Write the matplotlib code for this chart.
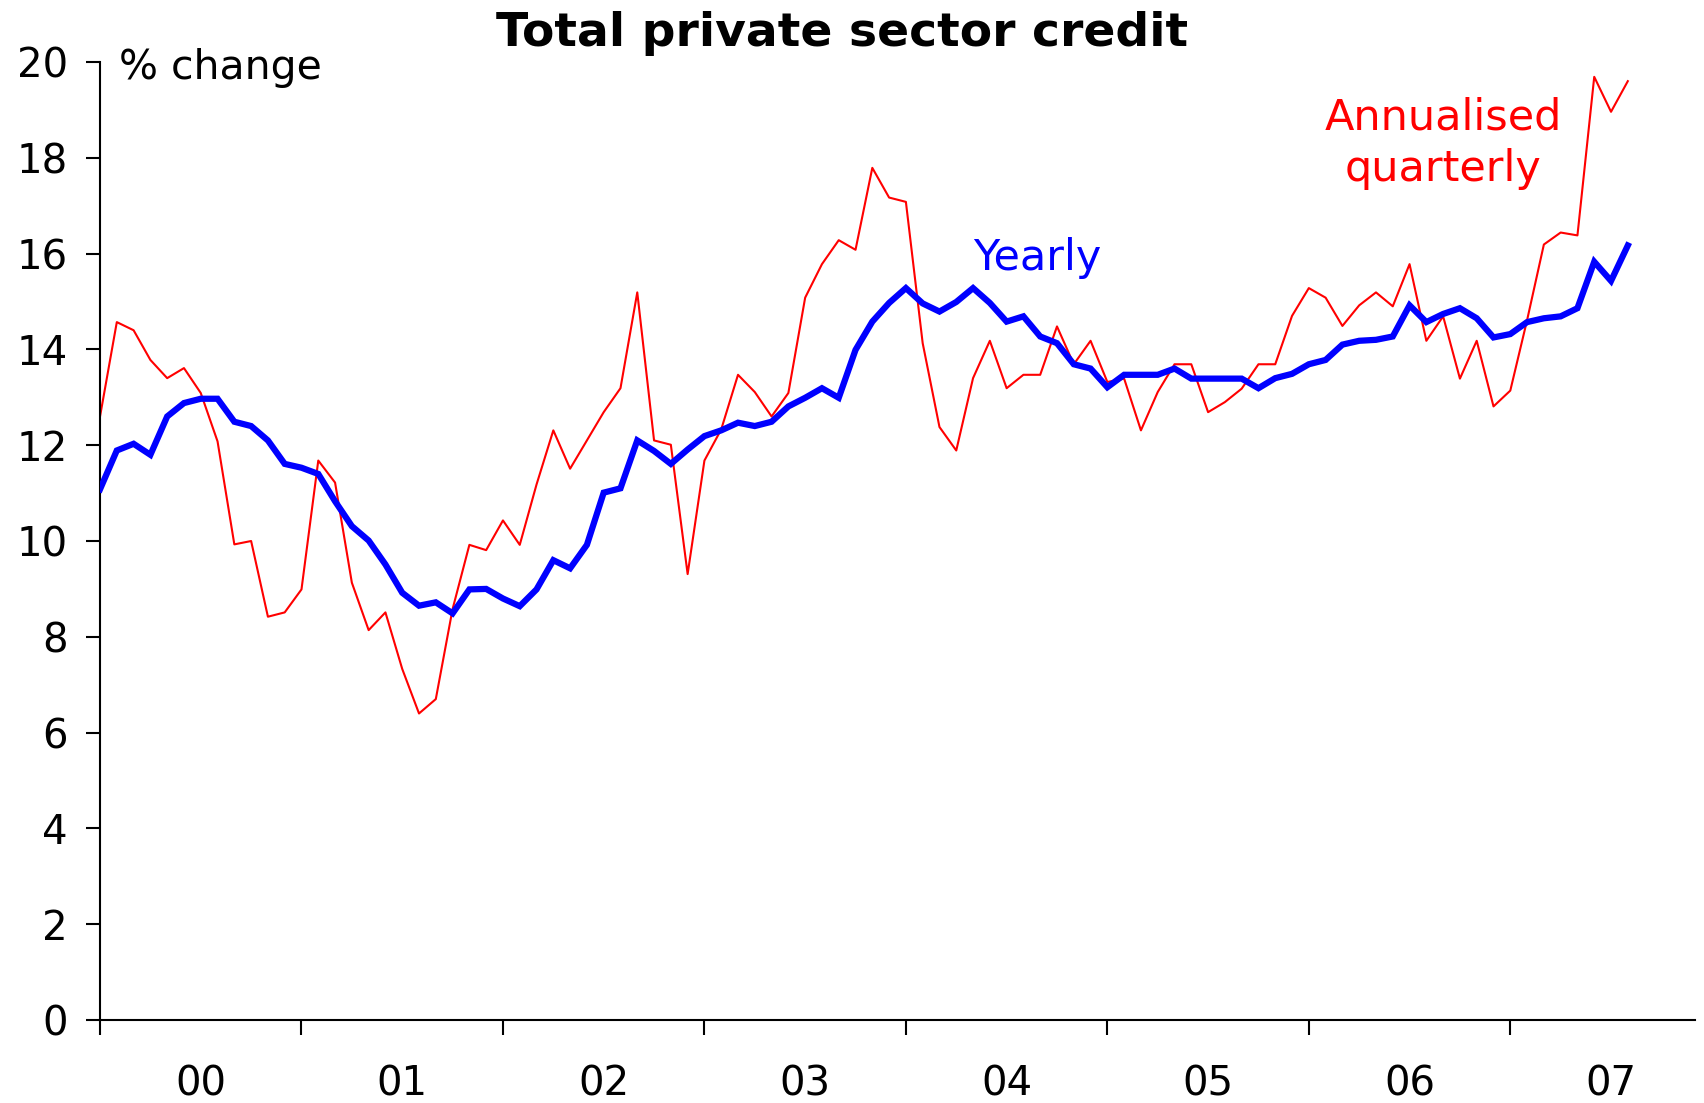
import matplotlib
matplotlib.use("Agg")
import matplotlib.pyplot as plt
import numpy as np

# Monthly growth in private sector credit, Jan 2000 onwards (% change)
yearly = [
    11.08, 11.89, 12.03, 11.80, 12.60, 12.88, 12.97, 12.97, 12.49, 12.40, 12.10, 11.61,
    11.53, 11.40, 10.83, 10.31, 10.01, 9.51, 8.92, 8.65, 8.72, 8.49, 8.99, 9.00,
    8.80, 8.64, 8.99, 9.60, 9.43, 9.92, 11.01, 11.10, 12.10, 11.88, 11.61, 11.91,
    12.19, 12.31, 12.47, 12.40, 12.49, 12.81, 12.99, 13.19, 12.99, 13.99, 14.58, 14.97,
    15.28, 14.96, 14.79, 14.99, 15.28, 14.97, 14.58, 14.69, 14.27, 14.13, 13.69, 13.60,
    13.21, 13.47, 13.47, 13.47, 13.60, 13.39, 13.39, 13.39, 13.39, 13.19, 13.40, 13.49,
    13.69, 13.78, 14.10, 14.18, 14.20, 14.27, 14.92, 14.57, 14.74, 14.86, 14.65, 14.25,
    14.32, 14.57, 14.65, 14.69, 14.86, 15.83, 15.43, 16.17,
]
annualised_qtr = [
    12.60, 14.57, 14.40, 13.78, 13.40, 13.61, 13.09, 12.08, 9.93, 10.00, 8.42, 8.51,
    8.99, 11.68, 11.22, 9.13, 8.14, 8.51, 7.33, 6.40, 6.70, 8.58, 9.92, 9.81,
    10.43, 9.92, 11.18, 12.31, 11.51, 12.10, 12.69, 13.19, 15.19, 12.10, 12.01, 9.31,
    11.68, 12.33, 13.47, 13.11, 12.60, 13.09, 15.08, 15.78, 16.28, 16.08, 17.79, 17.17,
    17.08, 14.13, 12.38, 11.89, 13.40, 14.18, 13.19, 13.47, 13.47, 14.48, 13.69, 14.18,
    13.32, 13.39, 12.31, 13.11, 13.69, 13.69, 12.69, 12.90, 13.18, 13.69, 13.69, 14.70,
    15.28, 15.08, 14.49, 14.92, 15.19, 14.90, 15.78, 14.18, 14.69, 13.39, 14.18, 12.81,
    13.14, 14.61, 16.19, 16.44, 16.38, 19.69, 18.96, 19.60,
]
year_labels = ["00", "01", "02", "03", "04", "05", "06", "07"]

plt.rcParams["font.family"] = "DejaVu Sans"

fig = plt.figure(figsize=(17.04, 11.03), dpi=100)
ax = fig.add_axes([0.0587, 0.0752, 0.936, 0.8686])

months = np.arange(len(yearly))
ax.plot(months, annualised_qtr, color="#ff0000", linewidth=1.5, zorder=2)
ax.plot(months, yearly, color="#0000ff", linewidth=4.5, zorder=3,
        solid_joinstyle="miter")

ax.set_xlim(0, 95)
ax.set_ylim(0, 20)

for side in ("top", "right"):
    ax.spines[side].set_visible(False)
for side in ("left", "bottom"):
    ax.spines[side].set_linewidth(1.5)

ax.set_yticks(np.arange(0, 21, 2))
ax.tick_params(axis="y", direction="out", length=10, width=1.5,
               labelsize=29, pad=13)

# year boundaries as major ticks, year labels centred on the minor ticks
ax.set_xticks(np.arange(0, 96, 12))
ax.set_xticks(np.arange(6, 96, 12), minor=True)
ax.set_xticklabels([])
ax.set_xticklabels(year_labels, minor=True)
ax.tick_params(axis="x", which="major", direction="out", length=11, width=1.5)
ax.tick_params(axis="x", which="minor", length=0, labelsize=29, pad=32)

ax.text(0.012, 0.994, "% change", transform=ax.transAxes, fontsize=29.5,
        ha="left", va="center")
ax.text(55.8, 15.9, "Yearly", color="#0000ff", fontsize=31,
        ha="center", va="center")
ax.text(80, 18.3, "Annualised\nquarterly", color="#ff0000", fontsize=31,
        ha="center", va="center", linespacing=1.3)

fig.text(0.494, 0.970, "Total private sector credit", fontsize=34,
         fontweight="bold", ha="center", va="center")

fig.savefig("out.png", dpi=100)
